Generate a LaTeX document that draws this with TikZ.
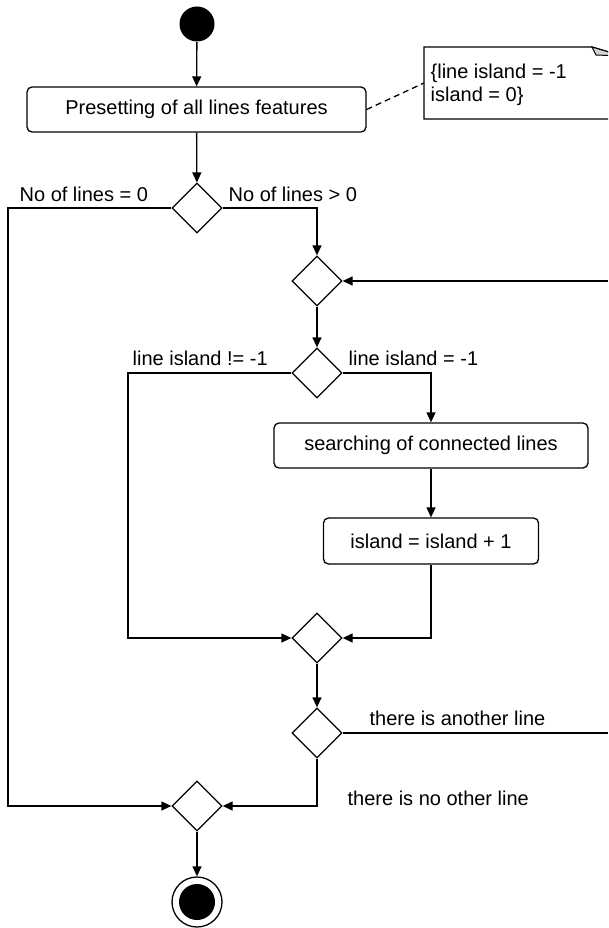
\documentclass[tikz,border=0pt]{standalone}
\usepackage{fontspec}
\setmainfont{Liberation Sans}
\usetikzlibrary{shapes.geometric,arrows.meta}
\begin{document}
\begin{tikzpicture}[x=1pt,y=-1pt,
  line width=1.3pt,
  txt/.style={font=\fontsize{20}{23}\selectfont},
  act/.style={txt, draw, rounded corners=5pt, inner sep=0pt},
  dec/.style={draw, diamond, minimum width=50pt, minimum height=50pt, inner sep=0pt},
  flow/.style={-{Triangle[length=10pt,width=9pt]}},
  lbl/.style={txt, anchor=west, inner sep=0pt},
  notebox/.style={draw, line width=1.3pt}]
\useasboundingbox (0,0) rectangle (608,928);
\clip (0,0) rectangle (608,928);

% nodes
\node[circle, fill, minimum size=35pt, inner sep=0pt] (start) at (197,24) {};
\node[act, minimum width=339pt, minimum height=45pt] (pre) at (196.5,109.5) {Presetting of all lines features};
\node[dec] (d1) at (197,208) {};
\node[dec] (d2) at (317,281) {};
\node[dec] (d3) at (317,373) {};
\node[act, minimum width=314pt, minimum height=45pt] (search) at (431,445.5) {searching of connected lines};
\node[act, minimum width=215pt, minimum height=46pt] (inc) at (431,541) {island = island + 1};
\node[dec] (d4) at (317,638) {};
\node[dec] (d5) at (317,733) {};
\node[dec] (d6) at (197,806) {};
\node[circle, draw, minimum size=50pt, inner sep=0pt] (end) at (197,902) {};
\node[circle, fill, minimum size=36pt, inner sep=0pt] (endin) at (end.center) {};

% note
\draw[notebox] (424,47) -- (592,47) -- (622,56) -- (622,119) -- (424,119) -- cycle;
\filldraw[fill=gray!35, line width=1pt] (592,47) -- (596,55) -- (622,56) -- cycle;
\node[txt, anchor=north west, align=left, inner sep=0pt] (notetext) at (430,63.5) {\{line island = -1\\island = 0\}};
\coordinate (noteanchor) at (424,83);
\draw[dashed, dash pattern=on 6pt off 4pt] (pre.east) -- (noteanchor);

% helper coordinates
\coordinate (L2) at (8,806);
\coordinate (LL) at (128,638);
\coordinate (R1) at (608,281);
\coordinate (R2) at (608,733);

% connectors
\draw[flow] (start) -- (pre);
\draw[flow] (pre) -- (d1);
\draw[flow] (d1.east) -| (d2.north);
\draw[flow] (d1.west) -| (L2) -- (d6.west);
\draw[flow] (R1) -- (d2.east);
\draw[flow] (d2) -- (d3);
\draw[flow] (d3.east) -| (search.north);
\draw[flow] (search) -- (inc);
\draw[flow] (d3.west) -| (LL) -- (d4.west);
\draw[flow] (inc.south) |- (d4.east);
\draw[flow] (d4) -- (d5);
\draw (d5.east) -- (R2);
\draw[flow] (d5.south) |- (d6.east);
\draw[flow] (d6) -- (end);

% labels
\node[lbl] (l1) at (19,194.5) {No of lines = 0};
\node[lbl] (l2) at (228,194.5) {No of lines > 0};
\node[lbl] (l3) at (132,358.5) {line island != -1};
\node[lbl] (l4) at (348,358.5) {line island = -1};
\node[lbl] (l5) at (369,718.5) {there is another line};
\node[lbl] (l6) at (347,798) {there is no other line};
\end{tikzpicture}
\end{document}
